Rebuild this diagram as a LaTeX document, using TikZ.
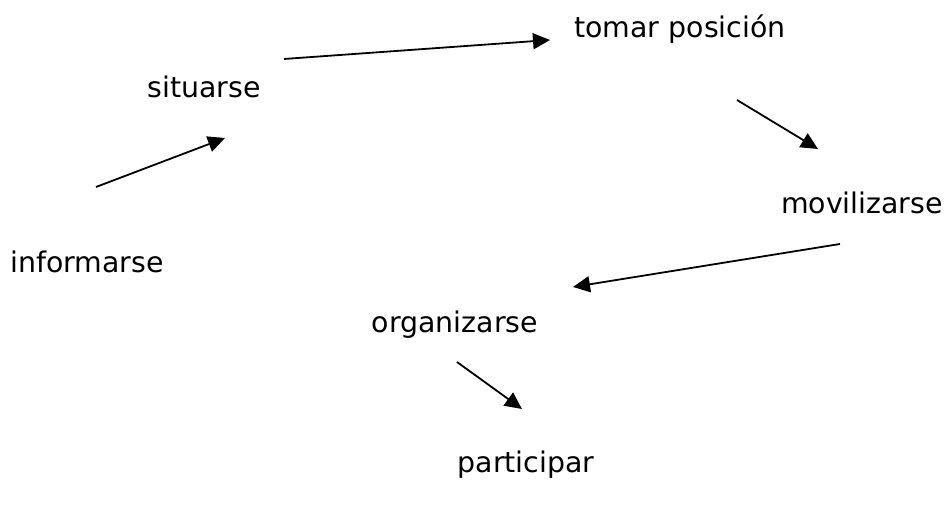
\documentclass[tikz,border=0pt]{standalone}
\usepackage{fontspec}
\setmainfont{DejaVu Sans}
\usetikzlibrary{arrows.meta}

\begin{document}
\begin{tikzpicture}[x=0.5pt,y=-0.5pt,
  word/.style={anchor=base,inner sep=0pt,font=\fontsize{14.2}{16}\selectfont},
  arr/.style={-{Triangle[length=8.5pt,width=8pt]},line width=0.9pt}]
  \useasboundingbox (0,0) rectangle (944,506);

  \node[word] (inf) at (87,273) {informarse};
  \node[word] (sit) at (204,98) {situarse};
  \node[word] (tom) at (680,38) {tomar posición};
  \node[word] (mov) at (862,214) {movilizarse};
  \node[word] (org) at (455,333) {organizarse};
  \node[word] (par) at (526,473) {participar};

  \path[arr]
  ([shift={(9,-86)}]inf.base) edge ([shift={(21,40)}]sit.base)
  ([shift={(80,-39)}]sit.base) edge ([shift={(-130,2)}]tom.base)
  ([shift={(57,62)}]tom.base) edge ([shift={(-44,-65)}]mov.base)
  ([shift={(-22,30)}]mov.base) edge ([shift={(118,-46)}]org.base)
  ([shift={(2,29)}]org.base) edge ([shift={(-4,-64)}]par.base)
  ;
\end{tikzpicture}
\end{document}
